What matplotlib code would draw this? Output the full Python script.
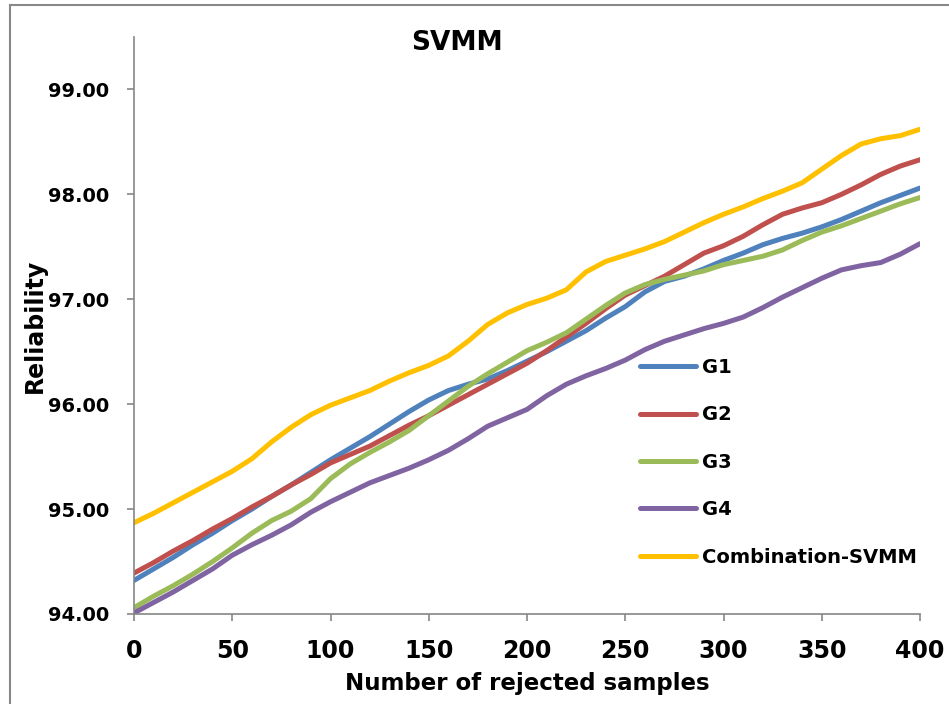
# SVMM reliability vs number of rejected samples
import matplotlib
matplotlib.use('Agg')
import matplotlib.pyplot as plt
from matplotlib.patches import Rectangle

samples = list(range(0, 401, 10))

g1 = [94.32, 94.43, 94.54, 94.66, 94.77, 94.89, 95.00, 95.12, 95.23, 95.35,
      95.47, 95.58, 95.69, 95.81, 95.93, 96.04, 96.13, 96.19, 96.24, 96.32,
      96.41, 96.50, 96.60, 96.70, 96.82, 96.93, 97.07, 97.17, 97.22, 97.29,
      97.37, 97.44, 97.52, 97.58, 97.63, 97.69, 97.76, 97.84, 97.92, 97.99, 98.06]
g2 = [94.39, 94.49, 94.60, 94.70, 94.81, 94.91, 95.02, 95.12, 95.23, 95.33,
      95.44, 95.52, 95.60, 95.70, 95.80, 95.89, 95.99, 96.09, 96.19, 96.29,
      96.39, 96.51, 96.64, 96.77, 96.91, 97.04, 97.13, 97.22, 97.33, 97.44,
      97.51, 97.60, 97.71, 97.81, 97.87, 97.92, 98.00, 98.09, 98.19, 98.27, 98.33]
g3 = [94.06, 94.17, 94.27, 94.38, 94.50, 94.63, 94.77, 94.89, 94.98, 95.10,
      95.29, 95.43, 95.54, 95.64, 95.75, 95.89, 96.03, 96.17, 96.29, 96.40,
      96.51, 96.59, 96.68, 96.81, 96.94, 97.06, 97.14, 97.19, 97.23, 97.27,
      97.33, 97.37, 97.41, 97.47, 97.56, 97.64, 97.70, 97.77, 97.84, 97.91, 97.97]
g4 = [94.01, 94.11, 94.21, 94.32, 94.43, 94.56, 94.66, 94.75, 94.85, 94.97,
      95.07, 95.16, 95.25, 95.32, 95.39, 95.47, 95.56, 95.67, 95.79, 95.87,
      95.95, 96.08, 96.19, 96.27, 96.34, 96.42, 96.52, 96.60, 96.66, 96.72,
      96.77, 96.83, 96.92, 97.02, 97.11, 97.20, 97.28, 97.32, 97.35, 97.43, 97.53]
combination = [94.87, 94.96, 95.06, 95.16, 95.26, 95.36, 95.48, 95.64, 95.78, 95.90,
               95.99, 96.06, 96.13, 96.22, 96.30, 96.37, 96.46, 96.60, 96.76, 96.87,
               96.95, 97.01, 97.09, 97.26, 97.36, 97.42, 97.48, 97.55, 97.64, 97.73,
               97.81, 97.88, 97.96, 98.03, 98.11, 98.24, 98.37, 98.48, 98.53, 98.56, 98.62]

series = [('G1', g1, '#4F81BD'),
          ('G2', g2, '#C0504D'),
          ('G3', g3, '#9BBB59'),
          ('G4', g4, '#8064A2'),
          ('Combination-SVMM', combination, '#FFC000')]

plt.rcParams['font.family'] = ['DejaVu Sans']
plt.rcParams['font.weight'] = 'bold'

fig = plt.figure(figsize=(9.49, 7.04), dpi=100)
ax = fig.add_axes([134 / 949, 1 - 614 / 704, 786 / 949, 577 / 704])

for name, vals, col in series:
    ax.plot(samples, vals, color=col, lw=3.6, label=name,
            solid_capstyle='round', solid_joinstyle='round')

ax.set_xlim(0, 400)
ax.set_ylim(94, 99.5)
ax.set_xticks(range(0, 401, 50))
ax.set_yticks([94, 95, 96, 97, 98, 99])
ax.set_yticklabels(['%.2f' % v for v in [94, 95, 96, 97, 98, 99]])

gray = '#868686'
for s in ['top', 'right']:
    ax.spines[s].set_visible(False)
for s in ['left', 'bottom']:
    ax.spines[s].set_color(gray)
    ax.spines[s].set_linewidth(1.2)
ax.tick_params(axis='x', colors=gray, labelcolor='black', length=5, width=1.2,
               labelsize=17, pad=13)
ax.tick_params(axis='y', colors=gray, labelcolor='black', length=5, width=1.2,
               labelsize=14, pad=13)
for lab in ax.get_xticklabels() + ax.get_yticklabels():
    lab.set_fontweight('bold')

ax.set_xlabel('Number of rejected samples', fontsize=16.5, fontweight='bold', va='baseline')
ax.xaxis.set_label_coords(0.5, (614 - 690) / 577)
ax.set_ylabel('Reliability', fontsize=17, fontweight='bold', va='center')
ax.yaxis.set_label_coords((35 - 134) / 786, 0.5)

fig.text(457 / 949, 1 - 43 / 704, 'SVMM', ha='center', va='center',
         fontsize=19, fontweight='bold')

leg = ax.legend(loc='upper left', bbox_to_anchor=((640 - 134) / 786, (614 - 358) / 577),
                frameon=False, fontsize=14, handlelength=2.9, handletextpad=0.3,
                labelspacing=1.46, borderpad=0, borderaxespad=0)
for t in leg.get_texts():
    t.set_fontweight('bold')

# outer chart border
fig.patches.append(Rectangle((9.5 / 949, -0.1), 1.2, 1.1 - 5 / 704, transform=fig.transFigure,
                             fill=False, edgecolor='#888888', lw=1.5))

fig.savefig('out.png', dpi=100)
